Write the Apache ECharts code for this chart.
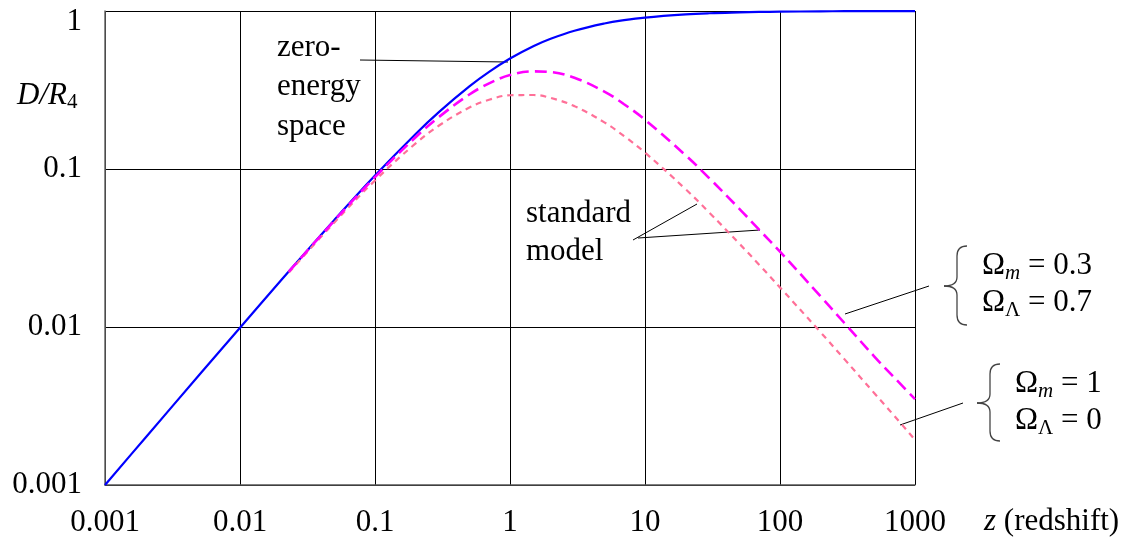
<!DOCTYPE html>
<html>
<head>
<meta charset="utf-8">
<title>D/R4 vs redshift</title>
<script src="https://cdn.jsdelivr.net/npm/echarts@6/dist/echarts.min.js"></script>
<style>
  html, body { margin: 0; padding: 0; background: #fff; }
  #chart { width: 1126px; height: 541px; }
</style>
</head>
<body>
<div id="chart"></div>
<script>
// zero-energy space curve
const zSolid = [0.001, 0.002, 0.005, 0.01, 0.02, 0.05, 0.1, 0.2, 0.3, 0.5, 0.7, 1, 1.5, 2, 3, 5, 7, 10, 20, 30, 50, 70, 100, 200, 300, 500, 700, 1000]
const zeroEnergy = [0.001, 0.002, 0.00498, 0.0099, 0.0196, 0.0476, 0.0909, 0.1667, 0.2308, 0.3333, 0.4118, 0.5, 0.6, 0.667, 0.75, 0.833, 0.875, 0.909, 0.952, 0.968, 0.98, 0.986, 0.99, 0.995, 0.997, 0.998, 0.9986, 0.999]

// standard model curves
const zDashed = [0.023, 0.05, 0.1, 0.2, 0.3, 0.5, 0.7, 1, 1.5, 2, 3, 5, 7, 10, 20, 30, 50, 70, 100, 200, 300, 500, 700, 1000]
const lambdaModel = [0.0224, 0.0471, 0.0888, 0.159, 0.2145, 0.296, 0.348, 0.393, 0.415, 0.411, 0.378, 0.309, 0.257, 0.205, 0.122, 0.0873, 0.056, 0.0413, 0.03, 0.0156, 0.0106, 0.0065, 0.0048, 0.0035]
const flatModel = [0.0221, 0.0459, 0.0846, 0.1452, 0.1891, 0.2447, 0.2742, 0.2929, 0.294, 0.2818, 0.25, 0.1973, 0.1616, 0.127, 0.0745, 0.0529, 0.0337, 0.0248, 0.0178, 0.00925, 0.00626, 0.00381, 0.00275, 0.00193]

const xTickLabels = ['0.001', '0.01', '0.1', '1', '10', '100', '1000']
const yTickLabels = ['0.001', '0.01', '0.1', '1']

const serif = 'Liberation Serif'
const fs = 31
const toPairs = (xs, ys) => xs.map((x, i) => [x, ys[i]])
const decade = (v) => Math.round(Math.log10(v)) + 3

const thin = { stroke: '#000', lineWidth: 1 }
const braceStyle = { stroke: '#444', fill: null, lineWidth: 1.3 }

// curly brace made of bezier pieces: r = open end x, v = spine x, t = tip x
function brace(r, v, t, top, mid, bottom) {
  return [
    { type: 'bezierCurve', shape: { x1: r, y1: top, cpx1: v, cpy1: top, x2: v, y2: top + 10 }, style: braceStyle },
    { type: 'line', shape: { x1: v, y1: top + 10, x2: v, y2: mid - 9 }, style: braceStyle },
    { type: 'bezierCurve', shape: { x1: v, y1: mid - 9, cpx1: v, cpy1: mid, x2: t, y2: mid }, style: braceStyle },
    { type: 'bezierCurve', shape: { x1: t, y1: mid, cpx1: v, cpy1: mid, x2: v, y2: mid + 9 }, style: braceStyle },
    { type: 'line', shape: { x1: v, y1: mid + 9, x2: v, y2: bottom - 10 }, style: braceStyle },
    { type: 'bezierCurve', shape: { x1: v, y1: bottom - 10, cpx1: v, cpy1: bottom, x2: r, y2: bottom }, style: braceStyle }
  ]
}

const omegaRich = {
  b: { fontFamily: serif, fontSize: fs, lineHeight: 37, fill: '#000' },
  s: { fontFamily: serif, fontStyle: 'italic', fontSize: 21, lineHeight: 20, verticalAlign: 'bottom', fill: '#000' },
  g: { fontFamily: serif, fontSize: 21, lineHeight: 20, verticalAlign: 'bottom', fill: '#000' }
}

const chart = echarts.init(document.getElementById('chart'))

chart.setOption({
  backgroundColor: '#fff',
  animation: false,
  grid: { left: 105, right: 211, top: 11, bottom: 56 },
  xAxis: {
    type: 'log',
    logBase: 10,
    min: 0.001,
    max: 1000,
    axisLine: { lineStyle: { color: '#555', width: 1.5 } },
    axisTick: { show: false },
    axisLabel: {
      margin: 22,
      color: '#000',
      fontFamily: serif,
      fontSize: fs,
      formatter: (v) => xTickLabels[decade(v)]
    },
    splitLine: { show: true, lineStyle: { color: '#000', width: 1 } }
  },
  yAxis: {
    type: 'log',
    logBase: 10,
    min: 0.001,
    max: 1,
    axisLine: { show: true, lineStyle: { color: '#666', width: 1.5 } },
    axisTick: { show: false },
    axisLabel: {
      margin: 23,
      color: '#000',
      fontFamily: serif,
      fontSize: fs,
      formatter: (v) => {
        const i = decade(v)
        return i === yTickLabels.length - 1 ? '{top|' + yTickLabels[i] + '}' : yTickLabels[i]
      },
      rich: {
        top: { padding: [22, 0, 0, 0], fontFamily: serif, fontSize: fs, color: '#000' }
      }
    },
    splitLine: { show: true, lineStyle: { color: '#000', width: 1 } }
  },
  series: [
    {
      name: 'zero-energy space',
      type: 'line',
      data: toPairs(zSolid, zeroEnergy),
      smooth: 0.4,
      showSymbol: false,
      lineStyle: { color: '#0000ff', width: 2.2 }
    },
    {
      name: 'Ωm = 1, ΩΛ = 0',
      type: 'line',
      data: toPairs(zDashed, flatModel),
      smooth: 0.4,
      showSymbol: false,
      lineStyle: { color: '#ff7098', width: 2.2, type: [6, 5] }
    },
    {
      name: 'Ωm = 0.3, ΩΛ = 0.7',
      type: 'line',
      data: toPairs(zDashed, lambdaModel),
      smooth: 0.4,
      showSymbol: false,
      lineStyle: { color: '#ff00ff', width: 2.6, type: [12, 6] }
    }
  ],
  graphic: [
    // axis titles
    {
      type: 'text', x: 17, y: 79,
      style: {
        text: '{i|D/R}{s|4}',
        rich: {
          i: { fontFamily: serif, fontStyle: 'italic', fontSize: fs, lineHeight: 34, fill: '#000' },
          s: { fontFamily: serif, fontSize: 21, lineHeight: 20, verticalAlign: 'bottom', fill: '#000' }
        }
      }
    },
    {
      type: 'text', x: 984, y: 506,
      style: {
        text: '{i|z}{r| (redshift)}',
        rich: {
          i: { fontFamily: serif, fontStyle: 'italic', fontSize: fs, fill: '#000' },
          r: { fontFamily: serif, fontSize: fs, fill: '#000' }
        }
      }
    },
    // zero-energy annotation
    {
      type: 'text', x: 277, y: 28,
      style: { text: 'zero-\nenergy\nspace', fontFamily: serif, fontSize: fs, lineHeight: 39.5, fill: '#000' }
    },
    { type: 'line', shape: { x1: 360, y1: 60, x2: 508, y2: 62 }, style: thin },
    // standard model annotation
    {
      type: 'text', x: 526, y: 195,
      style: { text: 'standard\nmodel', fontFamily: serif, fontSize: fs, lineHeight: 38, fill: '#000' }
    },
    { type: 'line', shape: { x1: 633, y1: 240, x2: 697, y2: 204 }, style: thin },
    { type: 'line', shape: { x1: 638, y1: 238, x2: 760, y2: 230 }, style: thin },
    // Ωm = 0.3 label
    { type: 'line', shape: { x1: 845, y1: 314, x2: 929, y2: 286 }, style: thin },
    ...brace(967, 957, 944, 246, 286, 325),
    {
      type: 'text', x: 982, y: 247,
      style: { text: '{b|Ω}{s|m}{b| = 0.3}\n{b|Ω}{g|Λ}{b| = 0.7}', rich: omegaRich }
    },
    // Ωm = 1 label
    { type: 'line', shape: { x1: 900, y1: 425, x2: 963, y2: 403 }, style: thin },
    ...brace(1000, 990, 977, 364, 403, 441),
    {
      type: 'text', x: 1015, y: 365,
      style: { text: '{b|Ω}{s|m}{b| = 1}\n{b|Ω}{g|Λ}{b| = 0}', rich: omegaRich }
    }
  ]
})
</script>
</body>
</html>
